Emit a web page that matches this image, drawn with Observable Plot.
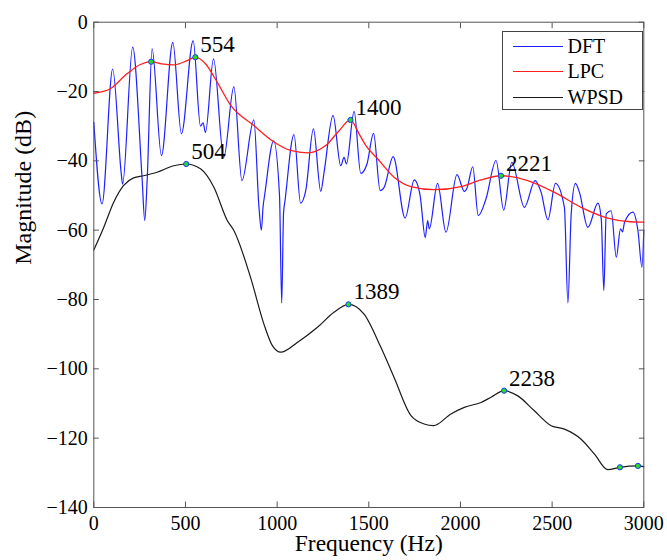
<!DOCTYPE html>
<html><head><meta charset="utf-8">
<script src="https://cdn.jsdelivr.net/npm/d3@7"></script>
<script src="https://cdn.jsdelivr.net/npm/@observablehq/plot@0.6"></script>
<style>
html,body{margin:0;padding:0;background:#fff;}
#wrap{position:relative;width:667px;height:560px;}
#wrap svg{display:block;}
#legend{position:absolute;left:501.5px;top:30.5px;width:141px;height:79px;border:1px solid #444;background:#fff;box-sizing:border-box;}
.row{position:absolute;left:0;height:24px;display:flex;align-items:center;font-size:20px;color:#000;}
.sw{width:50px;height:0;border-top:1.3px solid;margin-left:10px;margin-right:5px;}
</style></head><body><div id="wrap"></div>
<script>
// ---- data (Hz, dB) ----
const dftFreq = [0,45,103,150,157,212,263,278,291,318,369,431,478,542,582,596,609,653,709,764,808,873,901,914,923,933,981,1013,1025,1035,1043,1092,1128,1156,1198,1238,1256,1305,1347,1365,1378,1420,1456,1490,1526,1562,1584,1633,1698,1748,1780,1808,1821,1830,1875,1921,1981,2021,2036,2067,2097,2139,2194,2236,2280,2349,2407,2440,2477,2518,2567,2586,2604,2627,2649,2695,2750,2768,2782,2795,2822,2850,2873,2884,2895,2941,2968,2990,3000];
const dftDb   = [-28.9,-52.4,-13.5,-43.8,-46.7,-7.2,-44.7,-57.2,-45.7,-7.7,-38.5,-5.8,-32.2,-5.3,-30.0,-29.0,-31.8,-10.6,-39.0,-18.6,-45.7,-28.2,-53.4,-60.0,-53.4,-49.5,-34.2,-50.0,-81.0,-55.0,-51.5,-32.4,-52.2,-48.6,-30.8,-48.8,-43.3,-26.9,-41.4,-39.0,-40.9,-25.7,-43.6,-40.9,-32.1,-48.6,-47.6,-38.8,-56.5,-45.5,-50.0,-62.1,-57.2,-59.6,-46.5,-60.6,-44.0,-48.8,-47.8,-41.7,-55.8,-51.0,-39.9,-54.2,-40.4,-53.4,-45.7,-49.1,-57.0,-46.5,-53.4,-81.0,-55.3,-46.5,-49.1,-59.2,-52.2,-56.8,-77.4,-55.3,-54.4,-67.8,-59.6,-60.5,-57.7,-54.8,-60.1,-70.7,-60.0];

const lpcFreq = [0,90,181,254,313,370,436,509,554,609,673,742,873,979,1074,1165,1265,1338,1400,1447,1484,1548,1638,1730,1857,2003,2112,2221,2367,2513,2658,2804,2914,3000];
const lpcDb   = [-20.5,-19.2,-14.9,-12.2,-11.4,-12.0,-12.3,-11.1,-10.1,-12.0,-17.3,-23.6,-29.8,-34.4,-37.0,-37.7,-35.6,-31.3,-28.2,-32.2,-35.6,-39.4,-44.7,-47.4,-48.3,-47.4,-45.5,-44.3,-45.7,-49.1,-53.4,-56.5,-57.5,-57.7];

const wpsdFreq = [0,54,108,163,217,272,345,436,504,582,655,728,764,855,928,974,1020,1110,1220,1310,1389,1474,1566,1638,1730,1802,1853,1948,2021,2112,2167,2238,2313,2403,2495,2567,2658,2731,2804,2870,2968,3000];
const wpsdDb   = [-65.7,-59.2,-52.0,-47.1,-44.9,-44.3,-43.3,-41.4,-40.9,-42.3,-47.6,-57.2,-60.1,-73.6,-87.1,-93.3,-95.2,-92.4,-88.0,-83.7,-81.4,-84.2,-93.8,-102.5,-113.5,-115.9,-116.4,-113.0,-111.1,-109.7,-108.2,-106.3,-107.8,-112.1,-116.4,-117.4,-120.3,-124.6,-129.1,-128.4,-128.0,-128.2];

const peakFreq  = [313,554,1400,2221,504,1389,2238,2870,2968];
const peakDb    = [-11.4,-10.1,-28.2,-44.3,-40.9,-81.4,-106.3,-128.4,-128.0];
const peakLabel = ["","554","1400","2221","504","1389","2238","",""];

const xTicks = [0,500,1000,1500,2000,2500,3000];
const yTicks = [0,-20,-40,-60,-80,-100,-120,-140];
const seriesNames = ["DFT","LPC","WPSD"];
const seriesColors = ["#1f1fff","#ff1f1f","#1a1a1a"];

// ---- tables ----
const dft = dftFreq.map((f,i)=>({f, db: dftDb[i]}));
const lpc = lpcFreq.map((f,i)=>({f, db: lpcDb[i]}));
const wpsd = wpsdFreq.map((f,i)=>({f, db: wpsdDb[i]}));
const peaks = peakFreq.map((f,i)=>({f, db: peakDb[i], label: peakLabel[i]}));

const fmt = d3.format("d");
const axisCol = "#555";
const serif = "Liberation Serif";

const chart = Plot.plot({
  width: 667, height: 560,
  marginLeft: 93.3, marginRight: 23.7, marginTop: 21.7, marginBottom: 53,
  style: {fontSize: "20px", color: "#000", background: "#fff"},
  x: {domain: [0,3000]},
  y: {domain: [-140,0]},
  marks: [
    Plot.line(dft, {x:"f", y:"db", stroke: seriesColors[0], strokeWidth: 1.2, curve: "monotone-x"}),
    Plot.line(lpc, {x:"f", y:"db", stroke: seriesColors[1], strokeWidth: 1.3, curve: "monotone-x"}),
    Plot.line(wpsd, {x:"f", y:"db", stroke: seriesColors[2], strokeWidth: 1.2, curve: "monotone-x"}),
    Plot.dot(peaks, {x:"f", y:"db", r: 2.6, fill: "#22dd22", stroke: "#2233ff", strokeWidth: 1}),
    Plot.text(peaks.filter(d=>d.label), {x:"f", y:"db", text:"label", textAnchor:"start", dx: 5, dy: -12.4, fontSize: 23, fill:"#000"}),
    Plot.frame({stroke: axisCol}),
    Plot.axisX(xTicks, {anchor:"bottom", tickSize:-5.5, tickPadding:13.5, tickFormat: fmt, stroke: axisCol, fill:"#000", label:null}),
    Plot.axisX(xTicks, {anchor:"top", tickSize:-5.5, tickFormat: () => "", stroke: axisCol, label:null}),
    Plot.axisY(yTicks, {anchor:"left", tickSize:-5.5, tickPadding:11.5, tickFormat: fmt, stroke: axisCol, fill:"#000", label:null}),
    Plot.axisY(yTicks, {anchor:"right", tickSize:-5.5, tickFormat: () => "", stroke: axisCol, label:null}),
    Plot.text(["Frequency (Hz)"], {frameAnchor:"bottom", dy: 43, fontSize: 23.5, fill:"#000"}),
    Plot.text(["Magnitude (dB)"], {frameAnchor:"left", rotate: -90, dx: -70, fontSize: 24, fill:"#000"})
  ]
});

const wrap = document.getElementById("wrap");
wrap.appendChild(chart);

// legend box
const legend = document.createElement("div");
legend.id = "legend";
seriesNames.forEach((name, i) => {
  const row = document.createElement("div");
  row.className = "row";
  row.style.top = (3 + i*25.3) + "px";
  const sw = document.createElement("span");
  sw.className = "sw";
  sw.style.borderTopColor = seriesColors[i];
  const t = document.createElement("span");
  t.textContent = name;
  row.appendChild(sw); row.appendChild(t);
  legend.appendChild(row);
});
wrap.appendChild(legend);

// apply the serif face to every text element
wrap.style.fontFamily = "'" + serif + "'";
chart.style.fontFamily = "'" + serif + "'";
chart.querySelectorAll("text, tspan, g").forEach(el => { if (el.tagName === "g") el.removeAttribute("font-family"); else el.style.fontFamily = "'" + serif + "'"; });
legend.querySelectorAll("span,div").forEach(el => el.style.fontFamily = "'" + serif + "'");
</script></body></html>
